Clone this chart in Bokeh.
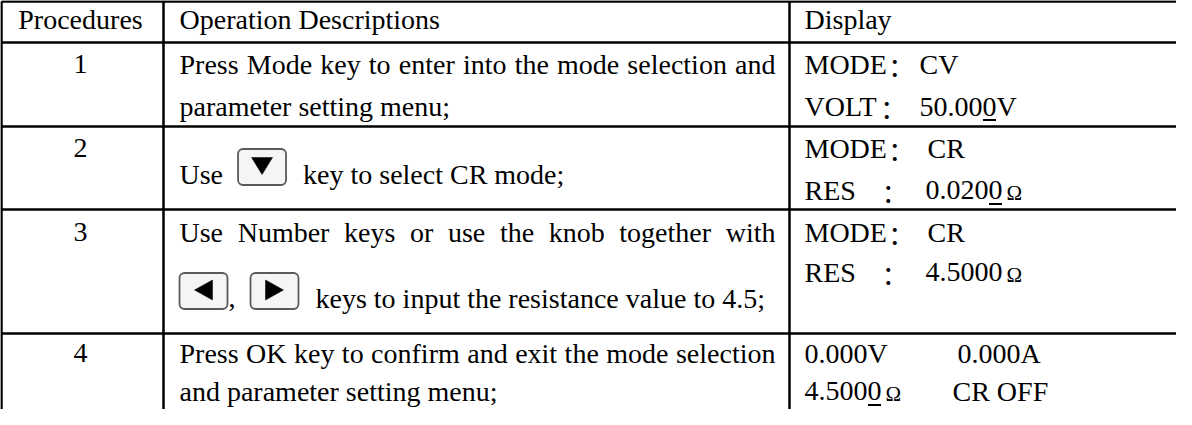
from bokeh.plotting import figure
from bokeh.models import Range1d
from bokeh.core.properties import value
from bokeh.embed import file_html
from bokeh.resources import INLINE

# ------------------------------------------------------------------ data
HEADERS = ["Procedures", "Operation Descriptions", "Display"]
STEPS = ["1", "2", "3", "4"]
DESCRIPTIONS = [
    ["Press Mode key to enter into the mode selection and", "parameter setting menu;"],
    ["Use [DOWN] key to select CR mode;"],
    ["Use Number keys or use the knob together with",
     "[LEFT], [RIGHT] keys to input the resistance value to 4.5;"],
    ["Press OK key to confirm and exit the mode selection", "and parameter setting menu;"],
]
JUSTIFIED = [[True, False], [False], [True, False], [True, False]]
DISPLAY = [
    [["MODE", "：", "CV"], ["VOLT", "：", "50.000V"]],
    [["MODE", "：", "CR"], ["RES", "：", "0.0200Ω"]],
    [["MODE", "：", "CR"], ["RES", "：", "4.5000Ω"]],
    [["0.000V", "0.000A"], ["4.5000Ω", "CR OFF"]],
]
# (segment, character) of the underlined cursor digit in each display line
CURSOR = [[None, (2, 5)], [None, (2, 5)], [None, None], [None, (0, 5)]]

# ------------------------------------------------------------------ layout
FIG_W, FIG_H = 1176, 409
OFF = 8
TABLE_LEFT = 5
COL_X = [TABLE_LEFT, 171, 797]
ROW_Y = [9, 50, 134, 217, 341]
RIGHT_END, BOTTOM_END = 1200, 440
RULE_W = 2.5
FS = 28
SMALL_FS = 21
COLON_FS = 26
BASE_FIX = 0.36          # empirical shift of the svg text baseline (em)
PAD2, PAD3 = 16, 15
JUSTIFY_RIGHT = COL_X[2] - 14
HEAD_BASE = 28
STEP_BASE = [32, 32, 33, 30]
DESC_BASE = [[32, 74], [58], [33, 99], [30, 68]]
DISP_BASE = [[32, 74], [32, 74], [33, 73], [30, 68]]
# segment offsets inside the display column; None = colon attached to the word
DISP_TABS = [[[0, None, 115], [0, None, 115]],
             [[0, None, 123], [0, 85, 121]],
             [[0, None, 123], [0, 85, 121]],
             [[0, 153], [0, 148]]]
COLON_GAP = 9
ICON_W, ICON_H, ICON_GAP_L, ICON_GAP_R = 48, 36, 8, 10

# Times / Liberation Serif advance widths (1/1000 em)
WID = {" ": 250, ",": 250, ".": 250, ";": 278, ":": 278,
       "A": 722, "B": 667, "C": 667, "D": 722, "E": 611, "F": 556, "G": 722,
       "H": 722, "I": 333, "J": 389, "K": 722, "L": 611, "M": 889, "N": 722,
       "O": 722, "P": 556, "Q": 722, "R": 667, "S": 556, "T": 611, "U": 722,
       "V": 722, "W": 944, "X": 722, "Y": 722, "Z": 611,
       "a": 444, "b": 500, "c": 444, "d": 500, "e": 444, "f": 333, "g": 500,
       "h": 500, "i": 278, "j": 278, "k": 500, "l": 278, "m": 778, "n": 500,
       "o": 500, "p": 500, "q": 500, "r": 333, "s": 389, "t": 278, "u": 500,
       "v": 500, "w": 722, "x": 500, "y": 500, "z": 444}


def tw(s, size=FS):
    return sum(WID.get(c, 500) for c in s) * size / 1000.0


texts = {"left": ([], [], []), "center": ([], [], []), "colon": ([], [], []),
         "small": ([], [], [])}
SIZES = {"left": FS, "center": FS, "colon": COLON_FS, "small": SMALL_FS}


def add(kind, x, y, s):
    texts[kind][0].append(x)
    texts[kind][1].append(y - BASE_FIX * SIZES[kind])
    texts[kind][2].append(s)


boxes = ([], [], [], [])
tri_x, tri_y = [], []


def add_icon(name, x, base):
    l, r = x, x + ICON_W
    b = base + 0.5
    t = b - ICON_H
    boxes[0].append(l); boxes[1].append(r); boxes[2].append(t); boxes[3].append(b)
    cx, cy = (l + r) / 2, (t + b) / 2 - 1
    if name == "DOWN":
        tri_x.append([cx - 10.5, cx + 10.5, cx]); tri_y.append([cy - 8.5, cy - 8.5, cy + 8.5])
    elif name == "LEFT":
        tri_x.append([cx + 9, cx + 9, cx - 9]); tri_y.append([cy - 10, cy + 10, cy])
    else:
        tri_x.append([cx - 9, cx - 9, cx + 9]); tri_y.append([cy - 10, cy + 10, cy])


def layout_line(line, x0, base, justify):
    toks = line.split(" ")
    if justify:
        total = sum(tw(t) for t in toks)
        gap = (JUSTIFY_RIGHT - x0 - total) / (len(toks) - 1)
        x = x0
        for t in toks:
            add("left", x, base, t)
            x += tw(t) + gap
        return
    x = x0
    buf, bx = [], x0
    prev = None  # "text", "icon", "tail"
    for t in toks:
        if t.startswith("["):
            if buf:
                s = " ".join(buf)
                add("left", bx, base, s)
                x = bx + tw(s)
                buf = []
            if prev in ("text", "tail"):
                x += tw(" ") + ICON_GAP_L
            name, tail = t[1:].split("]")
            add_icon(name, x, base)
            x += ICON_W
            if tail:
                add("left", x + 1, base, tail)
                x += 1 + tw(tail)
                prev = "tail"
            else:
                prev = "icon"
        else:
            if not buf:
                if prev == "icon":
                    x += tw(" ") + ICON_GAP_R
                elif prev == "tail":
                    x += tw(" ")
                bx = x
            buf.append(t)
            prev = "text"
    if buf:
        add("left", bx, base, " ".join(buf))


# header
hx = [(COL_X[0] + COL_X[1]) / 2, COL_X[1] + PAD2, COL_X[2] + PAD3]
add("center", hx[0], ROW_Y[0] + HEAD_BASE, HEADERS[0])
add("left", hx[1], ROW_Y[0] + HEAD_BASE, HEADERS[1])
add("left", hx[2], ROW_Y[0] + HEAD_BASE, HEADERS[2])

ul_x0, ul_x1, ul_y = [], [], []
for i, step in enumerate(STEPS):
    top = ROW_Y[i + 1]
    add("center", hx[0], top + STEP_BASE[i], step)
    for j, line in enumerate(DESCRIPTIONS[i]):
        layout_line(line, hx[1], top + DESC_BASE[i][j], JUSTIFIED[i][j])
    for j, segs in enumerate(DISPLAY[i]):
        base = top + DISP_BASE[i][j]
        for k, seg in enumerate(segs):
            tab = DISP_TABS[i][j][k]
            if seg == "：":
                dot = hx[2] + (tw(segs[0]) + COLON_GAP if tab is None else tab)
                add("colon", dot - 0.3 * COLON_FS, base, seg)
                continue
            sx = hx[2] + tab
            main = seg[:-1] if seg.endswith("Ω") else seg
            add("left", sx, base, main)
            if seg.endswith("Ω"):
                add("small", sx + tw(main) + 4, base, "Ω")
            cur = CURSOR[i][j]
            if cur is not None and cur[0] == k:
                cx0 = sx + tw(main[:cur[1]])
                ul_x0.append(cx0 + 0.5)
                ul_x1.append(cx0 + tw(main[cur[1]]) - 0.5)
                ul_y.append(base + 3.5)

# ------------------------------------------------------------------ figure
p = figure(width=FIG_W, height=FIG_H,
           x_range=Range1d(OFF, OFF + FIG_W), y_range=Range1d(OFF + FIG_H, OFF),
           output_backend="svg", toolbar_location=None,
           x_axis_location=None, y_axis_location=None, min_border=0)
p.grid.visible = False
p.outline_line_color = None
p.background_fill_color = "white"
p.border_fill_color = "white"

# rules
hx0 = [max(COL_X[0], OFF + 1)] * len(ROW_Y)
p.segment(x0=hx0, y0=ROW_Y, x1=[RIGHT_END] * len(ROW_Y), y1=ROW_Y,
          line_color="black", line_width=RULE_W)
vx = [max(COL_X[0], OFF + 1)] + COL_X[1:]
p.segment(x0=vx, y0=[ROW_Y[0]] * len(vx), x1=vx, y1=[BOTTOM_END] * len(vx),
          line_color="black", line_width=RULE_W)

# key icons
p.quad(left=boxes[0], right=boxes[1], top=boxes[2], bottom=boxes[3],
       fill_color="#f5f5f5", line_color="#5a5a5a", line_width=1.8, border_radius=5)
p.patches(tri_x, tri_y, fill_color="black", line_color="black", line_width=0.5)

serif = value("Liberation Serif")
p.text(x=texts["left"][0], y=texts["left"][1], text=texts["left"][2],
       text_font=serif, text_font_size=value(f"{FS}px"), text_color="black",
       text_align="left", text_baseline="alphabetic")
p.text(x=texts["center"][0], y=texts["center"][1], text=texts["center"][2],
       text_font=serif, text_font_size=value(f"{FS}px"), text_color="black",
       text_align="center", text_baseline="alphabetic")
p.text(x=texts["colon"][0], y=texts["colon"][1], text=texts["colon"][2],
       text_font=value("Noto Sans CJK SC"), text_font_size=value(f"{COLON_FS}px"),
       text_color="black", text_align="left", text_baseline="alphabetic")
p.text(x=texts["small"][0], y=texts["small"][1], text=texts["small"][2],
       text_font=serif, text_font_size=value(f"{SMALL_FS}px"), text_color="black",
       text_align="left", text_baseline="alphabetic")
p.segment(x0=ul_x0, y0=ul_y, x1=ul_x1, y1=ul_y, line_color="black", line_width=2)

open("out.html", "w").write(file_html(p, INLINE))
